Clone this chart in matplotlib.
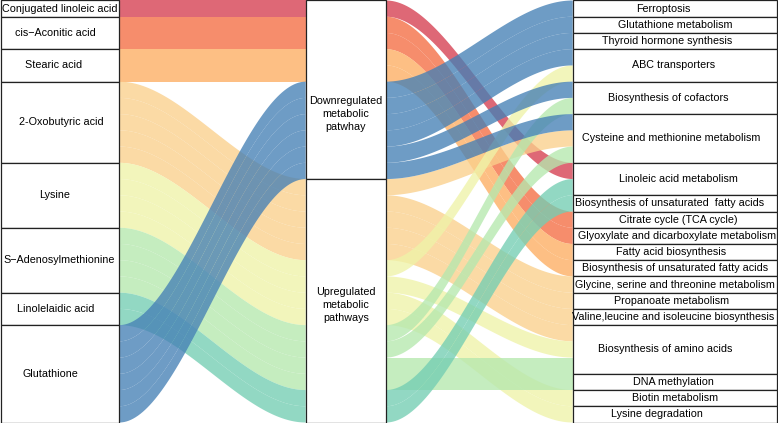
import matplotlib
matplotlib.use("Agg")
import matplotlib.pyplot as plt
import numpy as np
from matplotlib.patches import Rectangle, Polygon

plt.rcParams['font.family'] = ['Liberation Sans', 'DejaVu Sans']

# ---- data -------------------------------------------------------------
metabolites = ["Conjugated linoleic acid", "cis\u2212Aconitic acid", "Stearic acid",
               "2-Oxobutyric acid", "Lysine", "S\u2212Adenosylmethionine",
               "Linolelaidic acid", "Glutathione"]
regulations = ["Downregulated\nmetabolic\npatwhay", "Upregulated\nmetabolic\npathways"]
metabolite_regulation = [0, 0, 0, 1, 1, 1, 1, 0]
pathways = ["Ferroptosis", "Glutathione metabolism", "Thyroid hormone synthesis",
            "ABC transporters", "Biosynthesis of cofactors",
            "Cysteine and methionine metabolism", "Linoleic acid metabolism",
            "Biosynthesis of unsaturated  fatty acids", "Citrate cycle (TCA cycle)",
            "Glyoxylate and dicarboxylate metabolism", "Fatty acid biosynthesis",
            "Biosynthesis of unsaturated fatty acids",
            "Glycine, serine and threonine metabolism", "Propanoate metabolism",
            "Valine,leucine and isoleucine biosynthesis", "Biosynthesis of amino acids",
            "DNA methylation", "Biotin metabolism", "Lysine degradation"]
links = [
    ("Conjugated linoleic acid", "Linoleic acid metabolism"),
    ("cis\u2212Aconitic acid", "Citrate cycle (TCA cycle)"),
    ("cis\u2212Aconitic acid", "Glyoxylate and dicarboxylate metabolism"),
    ("Stearic acid", "Fatty acid biosynthesis"),
    ("Stearic acid", "Biosynthesis of unsaturated fatty acids"),
    ("2-Oxobutyric acid", "Cysteine and methionine metabolism"),
    ("2-Oxobutyric acid", "Glycine, serine and threonine metabolism"),
    ("2-Oxobutyric acid", "Propanoate metabolism"),
    ("2-Oxobutyric acid", "Valine,leucine and isoleucine biosynthesis"),
    ("2-Oxobutyric acid", "Biosynthesis of amino acids"),
    ("Lysine", "ABC transporters"),
    ("Lysine", "Biosynthesis of amino acids"),
    ("Lysine", "Biotin metabolism"),
    ("Lysine", "Lysine degradation"),
    ("S\u2212Adenosylmethionine", "Biosynthesis of cofactors"),
    ("S\u2212Adenosylmethionine", "Cysteine and methionine metabolism"),
    ("S\u2212Adenosylmethionine", "Biosynthesis of amino acids"),
    ("S\u2212Adenosylmethionine", "DNA methylation"),
    ("Linolelaidic acid", "Linoleic acid metabolism"),
    ("Linolelaidic acid", "Biosynthesis of unsaturated  fatty acids"),
    ("Glutathione", "Ferroptosis"),
    ("Glutathione", "Glutathione metabolism"),
    ("Glutathione", "Thyroid hormone synthesis"),
    ("Glutathione", "ABC transporters"),
    ("Glutathione", "Biosynthesis of cofactors"),
    ("Glutathione", "Cysteine and methionine metabolism"),
]
colors = ["#D53E4F", "#F46D43", "#FDAE61", "#FAD08C",
          "#EFF3A8", "#B5E8AE", "#74CEB3", "#4580B5"]

# ---- layout -------------------------------------------------------------
left_x = (0.5, 119.3)
mid_x = (305.7, 386.0)
right_x = (572.7, 777.3)
left_label_x = [60, 55.5, 54, 61, 55, 59, 56, 50]
right_label_x = [663, 675, 667, 674, 668, 671, 678, 670, 678, 677, 671, 675,
                 675, 672, 673.5, 665, 673.5, 675, 657]
mid_label_y = [7.0, 18.75]
FS = 7.75
ALPHA = 0.78

units = [(metabolites.index(m), pathways.index(p)) for m, p in links]
n = len(units)

# slot of every unit on the three axes
left_order = sorted(range(n), key=lambda i: (units[i][0], units[i][1]))
mid_order = sorted(range(n), key=lambda i: (metabolite_regulation[units[i][0]],
                                            units[i][0], units[i][1]))
right_order = sorted(range(n), key=lambda i: (units[i][1],
                                              metabolite_regulation[units[i][0]],
                                              units[i][0]))
left_pos = {u: k for k, u in enumerate(left_order)}
mid_pos = {u: k for k, u in enumerate(mid_order)}
right_pos = {u: k for k, u in enumerate(right_order)}


def ribbon(ax, x0, x1, y0, y1, color):
    t = np.linspace(0, 1, 80)
    s = 3 * t ** 2 - 2 * t ** 3
    xs = x0 + (x1 - x0) * t
    top = y0 + (y1 - y0) * s
    pts = np.vstack([np.column_stack([xs, top]),
                     np.column_stack([xs[::-1], top[::-1] + 1])])
    ax.add_patch(Polygon(pts, closed=True, facecolor=color, edgecolor="none",
                         alpha=ALPHA, zorder=1))


fig = plt.figure(figsize=(7.78, 4.23), dpi=100)
ax = fig.add_axes([0, 0, 1, 1])
ax.set_xlim(0, 778)
ax.set_ylim(n + 0.03, -0.03)
ax.axis("off")

for i in range(n):
    c = colors[units[i][0]]
    ribbon(ax, left_x[1], mid_x[0], left_pos[i], mid_pos[i], c)
    ribbon(ax, mid_x[1], right_x[0], mid_pos[i], right_pos[i], c)


def stratum(x, y0, height, label, lx, ly):
    ax.add_patch(Rectangle((x[0], y0), x[1] - x[0], height, facecolor="white",
                           edgecolor="#222222", linewidth=0.9, zorder=3,
                           clip_on=False))
    ax.text(lx, ly, label, ha="center", va="center", fontsize=FS,
            linespacing=1.35, zorder=4)


y = 0
for k, m in enumerate(metabolites):
    cnt = sum(1 for u in units if u[0] == k)
    stratum(left_x, y, cnt, m, left_label_x[k], y + cnt / 2)
    y += cnt

y = 0
for k, r in enumerate(regulations):
    cnt = sum(1 for u in units if metabolite_regulation[u[0]] == k)
    stratum(mid_x, y, cnt, r, sum(mid_x) / 2, mid_label_y[k])
    y += cnt

y = 0
for k, p in enumerate(pathways):
    cnt = sum(1 for u in units if u[1] == k)
    stratum(right_x, y, cnt, p, right_label_x[k], y + cnt / 2)
    y += cnt

fig.savefig("out.png", dpi=100)
